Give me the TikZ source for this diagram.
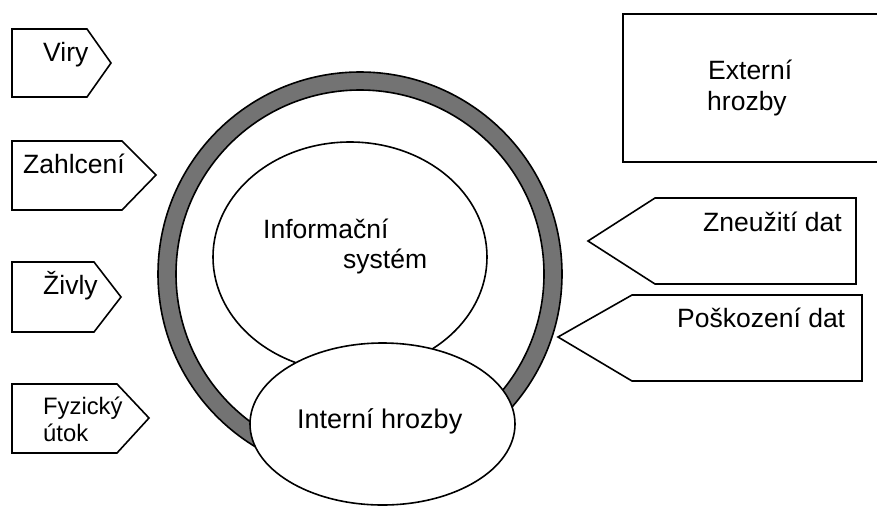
\documentclass[tikz,border=0pt]{standalone}
\usepackage{fontspec}
\setmainfont{Liberation Sans}
\begin{document}
\begin{tikzpicture}[x=1pt,y=-1pt,
  outl/.style={draw=black,line width=1.6pt,line join=miter},
  lbl/.style={anchor=base west,inner sep=0pt,font=\fontsize{26.5}{31}\selectfont},
  smlbl/.style={lbl,font=\fontsize{23.8}{28}\selectfont}]
\useasboundingbox (0,0) rectangle (877,507);
\fill[white] (0,0) rectangle (877,507);
% ring
\fill[black!55,even odd rule] (360,274) circle[radius=202] (360,274) circle[radius=184];
\draw[line width=1.6pt] (360,274) circle[radius=202];
\draw[line width=1.6pt] (360,274) circle[radius=184];
% information system
\draw[outl,fill=white] (350,257) ellipse[x radius=137,y radius=115];
% internal threats
\draw[outl,fill=white] (382.5,424) ellipse[x radius=132.5,y radius=81];
% left pentagons
\draw[outl] (12,29) -- (87,29) -- (111,63) -- (87,97) -- (12,97) -- cycle;
\draw[outl] (12,141) -- (122,141) -- (156,175) -- (122,210) -- (12,210) -- cycle;
\draw[outl] (12,262) -- (94,262) -- (121,297) -- (94,332) -- (12,332) -- cycle;
\draw[outl] (12,384) -- (117,384) -- (149,418) -- (117,453) -- (12,453) -- cycle;
% right pentagons
\draw[outl] (856,198) -- (655,198) -- (588,241) -- (655,284) -- (856,284) -- cycle;
\draw[outl] (862,295) -- (632,295) -- (558,337) -- (632,381) -- (862,381) -- cycle;
% external box
\draw[outl] (880,14) -- (623,14) -- (623,162) -- (880,162);
% labels
\node[lbl] (viry) at (43,61) {Viry};
\node[lbl] (zahl) at (23,173) {Zahlcení};
\node[lbl] (zivly) at (43,294) {Živly};
\node[smlbl] (fyz1) at (43,414) {Fyzický};
\node[smlbl] (fyz2) at (43,441) {útok};
\node[lbl] (zneu) at (703,231) {Zneužití dat};
\node[lbl] (posk) at (677,327) {Poškození dat};
\node[lbl] (ext1) at (708,79) {Externí};
\node[lbl] (ext2) at (707,110) {hrozby};
\node[lbl] (info1) at (263,238) {Informační};
\node[lbl] (info2) at (343,268) {systém};
\node[lbl,font=\fontsize{27}{31}\selectfont] (intr) at (297,428) {Interní hrozby};
\end{tikzpicture}
\end{document}
